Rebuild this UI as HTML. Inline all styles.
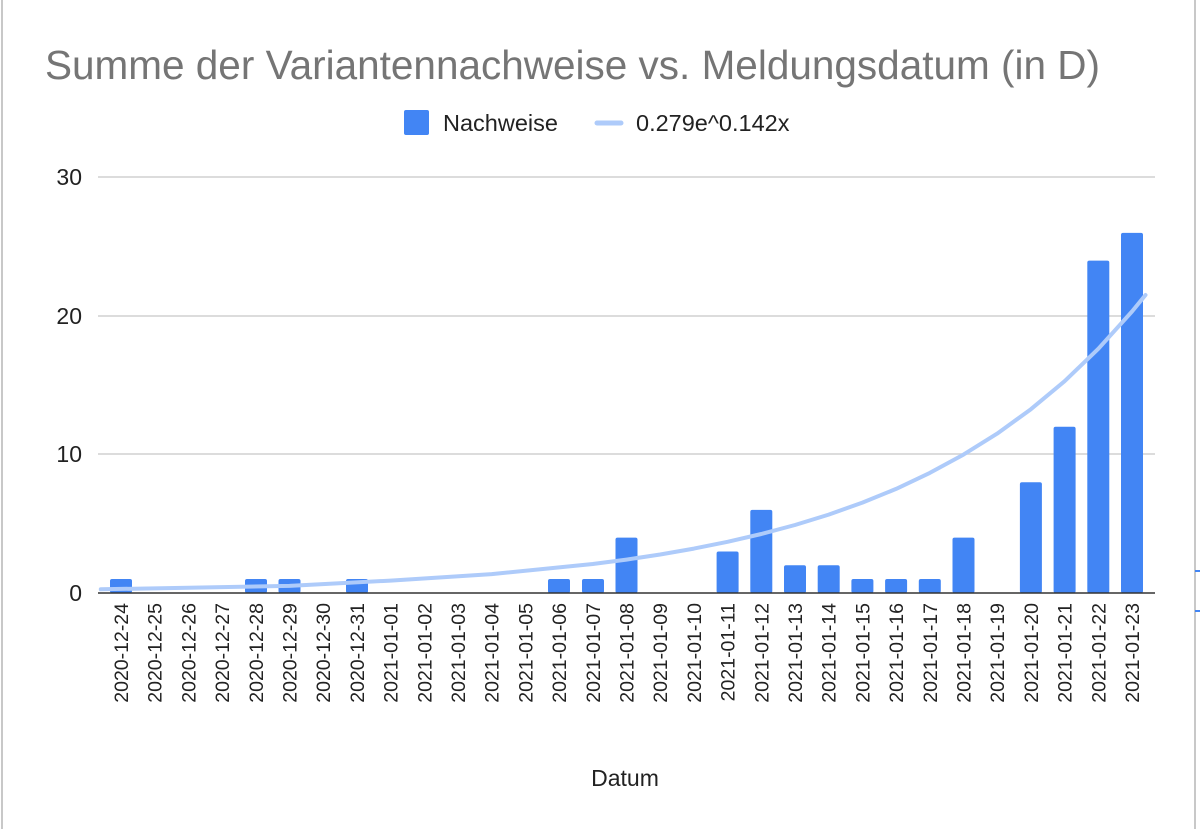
<!DOCTYPE html>
<html><head><meta charset="utf-8"><style>
body{margin:0;background:#fff}
svg text{font-family:"Liberation Sans",Arial,sans-serif}
</style></head><body>
<svg width="1200" height="829" viewBox="0 0 1200 829" xmlns="http://www.w3.org/2000/svg">
<rect width="1200" height="829" fill="#fff"/>
<line x1="2" y1="0" x2="2" y2="829" stroke="#c8c8c8" stroke-width="2"/>
<line x1="1195" y1="0" x2="1195" y2="829" stroke="#c8c8c8" stroke-width="2"/>
<text x="45" y="79" font-size="40.5" fill="#757575">Summe der Variantennachweise vs. Meldungsdatum (in D)</text>
<rect x="404" y="110" width="25" height="25" rx="2" fill="#4285f4"/>
<text x="443" y="131" font-size="23.5" fill="#222">Nachweise</text>
<line x1="597" y1="123" x2="621" y2="123" stroke="#aecbfa" stroke-width="5" stroke-linecap="round"/>
<text x="636" y="131" font-size="23.5" fill="#222">0.279e^0.142x</text>
<g stroke="#d0d0d0" stroke-width="1.5">
<line x1="98" y1="177" x2="1155" y2="177"/>
<line x1="98" y1="316" x2="1155" y2="316"/>
<line x1="98" y1="454" x2="1155" y2="454"/>
</g>
<g font-size="23" fill="#222" text-anchor="end">
<text x="82" y="185">30</text><text x="82" y="324">20</text><text x="82" y="462">10</text><text x="82" y="601">0</text>
</g>
<g fill="#4285f4">
<rect x="110" y="579" width="22" height="14" rx="2"/>
<rect x="245" y="579" width="22" height="14" rx="2"/>
<rect x="278.5" y="579" width="22" height="14" rx="2"/>
<rect x="346" y="579" width="22" height="14" rx="2"/>
<rect x="548" y="579" width="22" height="14" rx="2"/>
<rect x="582" y="579" width="22" height="14" rx="2"/>
<rect x="615.5" y="537.6" width="22" height="55.4" rx="2"/>
<rect x="716.6" y="551.5" width="22" height="41.5" rx="2"/>
<rect x="750.3" y="509.9" width="22" height="83.1" rx="2"/>
<rect x="784" y="565.3" width="22" height="27.7" rx="2"/>
<rect x="817.7" y="565.3" width="22" height="27.7" rx="2"/>
<rect x="851.4" y="579" width="22" height="14" rx="2"/>
<rect x="885.1" y="579" width="22" height="14" rx="2"/>
<rect x="918.8" y="579" width="22" height="14" rx="2"/>
<rect x="952.5" y="537.6" width="22" height="55.4" rx="2"/>
<rect x="1019.9" y="482.2" width="22" height="110.8" rx="2"/>
<rect x="1053.6" y="426.8" width="22" height="166.2" rx="2"/>
<rect x="1087.3" y="260.6" width="22" height="332.4" rx="2"/>
<rect x="1121" y="232.9" width="22" height="360.1" rx="2"/>
</g>
<polyline fill="none" stroke="#aecbfa" stroke-width="4" stroke-linecap="round" stroke-linejoin="round" points="100.8,589.3 188.4,587.7 289.5,585.9 390.6,580.6 491.7,574.1 592.8,564 626.5,559.6 660.2,554.5 693.9,548.6 727.6,541.8 761.3,534 795,525 828.7,514.6 862.4,502.6 896.1,488.9 929.8,472.9 963.5,454.6 997.2,433.6 1030.9,409.2 1064.6,381.2 1098.3,348.8 1132,311.5 1145.5,295"/>
<line x1="98" y1="593" x2="1155" y2="593" stroke="#333" stroke-width="1.5"/>
<g font-size="19.5" fill="#222" text-anchor="end">
<text transform="translate(128,603) rotate(-90)">2020-12-24</text>
<text transform="translate(161.7,603) rotate(-90)">2020-12-25</text>
<text transform="translate(195.4,603) rotate(-90)">2020-12-26</text>
<text transform="translate(229.1,603) rotate(-90)">2020-12-27</text>
<text transform="translate(262.8,603) rotate(-90)">2020-12-28</text>
<text transform="translate(296.5,603) rotate(-90)">2020-12-29</text>
<text transform="translate(330.2,603) rotate(-90)">2020-12-30</text>
<text transform="translate(363.9,603) rotate(-90)">2020-12-31</text>
<text transform="translate(397.6,603) rotate(-90)">2021-01-01</text>
<text transform="translate(431.3,603) rotate(-90)">2021-01-02</text>
<text transform="translate(465,603) rotate(-90)">2021-01-03</text>
<text transform="translate(498.7,603) rotate(-90)">2021-01-04</text>
<text transform="translate(532.4,603) rotate(-90)">2021-01-05</text>
<text transform="translate(566.1,603) rotate(-90)">2021-01-06</text>
<text transform="translate(599.8,603) rotate(-90)">2021-01-07</text>
<text transform="translate(633.5,603) rotate(-90)">2021-01-08</text>
<text transform="translate(667.2,603) rotate(-90)">2021-01-09</text>
<text transform="translate(700.9,603) rotate(-90)">2021-01-10</text>
<text transform="translate(734.6,603) rotate(-90)">2021-01-11</text>
<text transform="translate(768.3,603) rotate(-90)">2021-01-12</text>
<text transform="translate(802,603) rotate(-90)">2021-01-13</text>
<text transform="translate(835.7,603) rotate(-90)">2021-01-14</text>
<text transform="translate(869.4,603) rotate(-90)">2021-01-15</text>
<text transform="translate(903.1,603) rotate(-90)">2021-01-16</text>
<text transform="translate(936.8,603) rotate(-90)">2021-01-17</text>
<text transform="translate(970.5,603) rotate(-90)">2021-01-18</text>
<text transform="translate(1004.2,603) rotate(-90)">2021-01-19</text>
<text transform="translate(1037.9,603) rotate(-90)">2021-01-20</text>
<text transform="translate(1071.6,603) rotate(-90)">2021-01-21</text>
<text transform="translate(1105.3,603) rotate(-90)">2021-01-22</text>
<text transform="translate(1139,603) rotate(-90)">2021-01-23</text>
</g>
<text x="625" y="786" font-size="23" fill="#222" text-anchor="middle">Datum</text>
<line x1="1195" y1="571" x2="1200" y2="571" stroke="#4285f4" stroke-width="2"/>
<line x1="1195" y1="611" x2="1200" y2="611" stroke="#4285f4" stroke-width="2"/>
</svg>
</body></html>
